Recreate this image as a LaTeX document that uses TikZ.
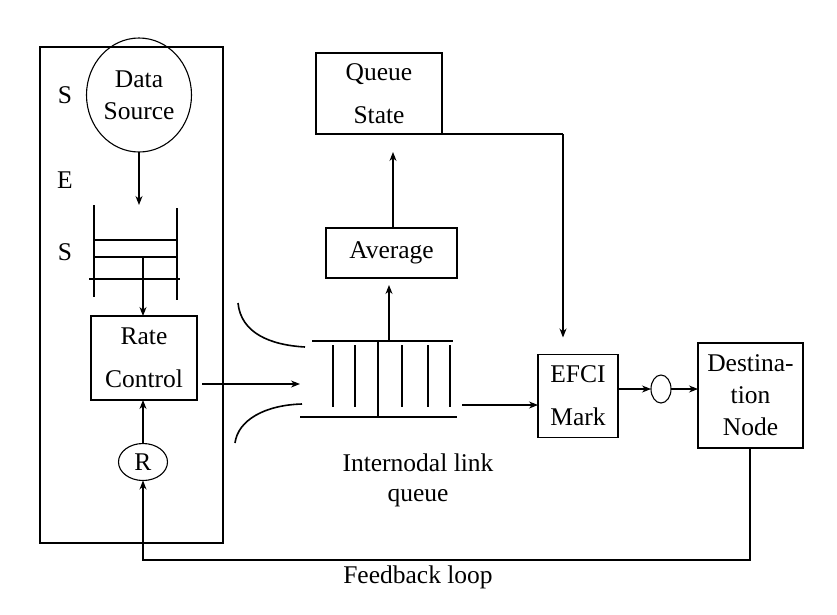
\documentclass[tikz,border=0pt]{standalone}
\usepackage{fontspec}
\setmainfont{Liberation Serif}
\usetikzlibrary{arrows.meta,shapes.geometric}
\tikzset{
  x=1pt,y=-1pt,
  every node/.style={inner sep=0pt,outer sep=0pt,font=\fontsize{25.5}{32}\selectfont},
  boxnode/.style={draw,line width=1.4pt,rectangle,align=center},
  wide/.style={font=\fontsize{25.5}{43}\selectfont},
  conn/.style={line width=1.1pt},
  arr/.style={conn,-{Stealth[length=9pt,width=7pt]}},
  thick line/.style={line width=1.4pt}
}
\begin{document}
\begin{tikzpicture}
\useasboundingbox (0,0) rectangle (837,614);
\fill[white] (0,0) rectangle (837,614);
% outer frame
\draw[conn] (40,47) rectangle (223,543);
% labels S E S
\node (s1) at (65,95) {S};
\node (e1) at (65,180) {E};
\node (s2) at (65,252) {S};
% data source
\node[draw,ellipse,line width=1.1pt,minimum width=105pt,minimum height=114pt,align=center] (ds) at (139,95) {Data\\Source};
\coordinate (stacktop) at (139,205);
\draw[arr] (ds.south) -- (stacktop);
% stack queue
\draw[thick line] (94,205) -- (94,297);
\draw[thick line] (177,208) -- (177,300);
\draw[thick line] (93,240) -- (177,240);
\draw[thick line] (93,257) -- (177,257);
\draw[thick line] (89,279) -- (180,279);
\coordinate (stackout) at (143,257);
% rate control
\node[boxnode,wide,minimum width=106pt,minimum height=84pt] (rate) at (144,358) {Rate\\Control};
\draw[arr] (stackout) -- (stackout |- rate.north);
% R
\node[draw,ellipse,line width=1.1pt,minimum width=49pt,minimum height=37pt] (R) at (143,462) {R};
\draw[arr] (R.north) -- (R.north |- rate.south);
% link queue
\coordinate (rateout) at (202,384);
\coordinate (qin) at (300,384);
\draw[arr] (rateout) -- (qin);
% funnel curves
\draw[line width=1.6pt] (238,303) .. controls (241,333) and (270,345) .. (305,347);
\draw[line width=1.6pt] (302,404) .. controls (265,405) and (238,420) .. (235,443);
% queue
\draw[thick line] (312,341) -- (453,341);
\draw[thick line] (300,417) -- (457,417);
\foreach \xx in {333,355,402,428,450} \draw[thick line] (\xx,345) -- (\xx,407);
\draw[thick line] (378,341) -- (378,417);
\node[align=center,font=\fontsize{25.5}{30}\selectfont] (qlabel) at (418,480) {Internodal link\\queue};
% average
\node[boxnode,minimum width=131pt,minimum height=50pt] (avg) at (391.5,253) {Average};
\coordinate (qtop) at (389,341);
\draw[arr,shorten >=7pt] (qtop) -- (qtop |- avg.south);
% queue state
\node[boxnode,wide,minimum width=126pt,minimum height=81pt] (qs) at (379,93.5) {Queue\\State};
\draw[arr,shorten >=18pt] (avg.north -| 393,0) -- (qs.south -| 393,0);
% EFCI
\node[boxnode,wide,minimum width=80pt,minimum height=83pt] (efci) at (578,396) {EFCI\\Mark};
\coordinate (qsturn) at (563,134);
\draw[conn] (qs.south east) -- (qsturn);
\draw[arr,shorten >=17pt] (qsturn) -- (qsturn |- efci.north);
\coordinate (qout) at (462,405);
\draw[arr] (qout) -- (qout -| efci.west);
% small ellipse
\node[draw,ellipse,line width=1.1pt,minimum width=20pt,minimum height=28pt] (cell) at (661,389) {};
\draw[arr] (efci.east |- cell) -- (cell.west);
% destination
\node[boxnode,minimum width=105pt,minimum height=105pt,align=center] (dest) at (750.5,395.5) {Destina-\\tion\\Node};
\draw[arr] (cell.east) -- (cell -| dest.west);
% feedback loop
\coordinate (fbr) at (750,560);
\coordinate (fbl) at (143,560);
\draw[arr] (dest.south -| fbr) -- (fbr) -- (fbl) -- (R.south);
\node (fblabel) at (418,577) {Feedback loop};
\end{tikzpicture}
\end{document}
